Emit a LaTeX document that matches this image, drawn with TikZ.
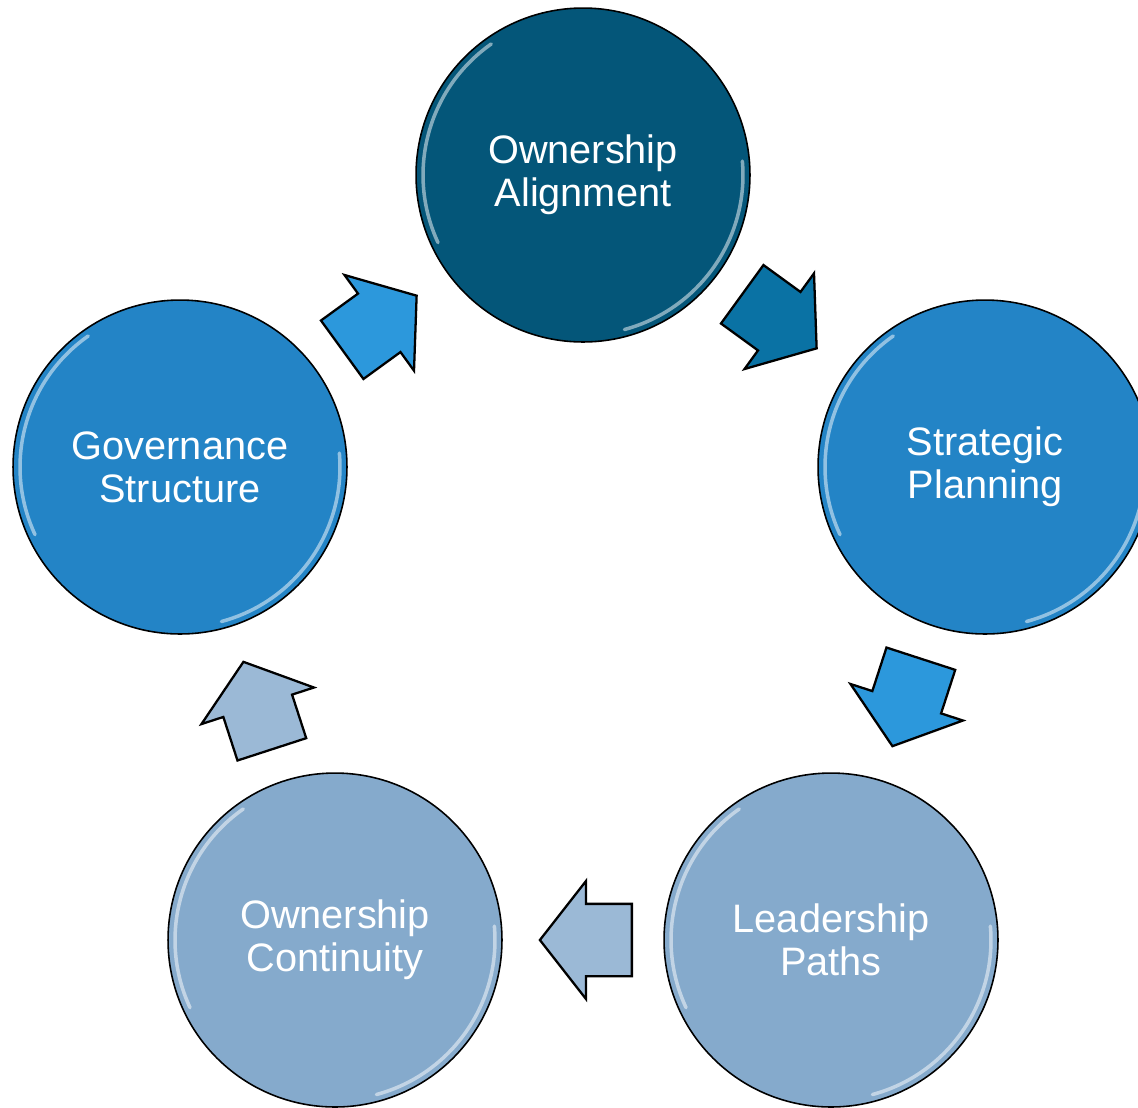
\documentclass[tikz,border=0pt]{standalone}
\usepackage{fontspec}
\setmainfont{Liberation Sans}
\usetikzlibrary{shapes.arrows,calc}
\definecolor{deepteal}{HTML}{045679}
\definecolor{midblue}{HTML}{2384C6}
\definecolor{paleblue}{HTML}{85AACC}
\definecolor{arrowteal}{HTML}{0A72A4}
\definecolor{arrowblue}{HTML}{2C98DC}
\definecolor{arrowpale}{HTML}{9BB9D6}

\begin{document}
\begin{tikzpicture}[x=0.02cm,y=-0.02cm,
  every node/.style={font=\fontsize{22.6}{24.5}\selectfont},
  stage/.style={circle,draw,line width=0.9pt,minimum size=6.68cm,text=white,align=center},
  flow/.style={single arrow,draw,line width=1.3pt,minimum height=1.84cm,
    inner xsep=0pt,inner ysep=0.7cm,single arrow head extend=0.46cm,
    single arrow tip angle=104},
  shine/.style={white,opacity=0.5,line width=2pt,line cap=round}]
\useasboundingbox (0,0) rectangle (1138,1107);

% stages
\node[stage,fill=deepteal] (align) at (583,175) {Ownership\\Alignment};
\node[stage,fill=midblue] (plan) at (985,467) {Strategic\\Planning};
\node[stage,fill=paleblue] (lead) at (831,940) {Leadership\\Paths};
\node[stage,fill=paleblue] (cont) at (335,940) {Ownership\\Continuity};
\node[stage,fill=midblue] (gov) at (180,467) {Governance\\Structure};

% bevel highlights
\foreach \c in {align,plan,lead,cont,gov}{
  \draw[shine] ($(\c.center)+(125:3.2cm)$) arc[start angle=125,end angle=205,radius=3.2cm];
  \draw[shine] ($(\c.center)+(-75:3.2cm)$) arc[start angle=-75,end angle=5,radius=3.2cm];
}

% arrows
\node[flow,fill=arrowteal,rotate=-36] (toPlan) at (768,313) {};
\node[flow,fill=arrowblue,rotate=-108] (toLead) at (911,689) {};
\node[flow,fill=arrowpale,rotate=180] (toCont) at (600,940) {};
\node[flow,fill=arrowpale,rotate=108] (toGov) at (262,719) {};
\node[flow,fill=arrowblue,rotate=36] (toAlign) at (368,331) {};
\end{tikzpicture}
\end{document}
